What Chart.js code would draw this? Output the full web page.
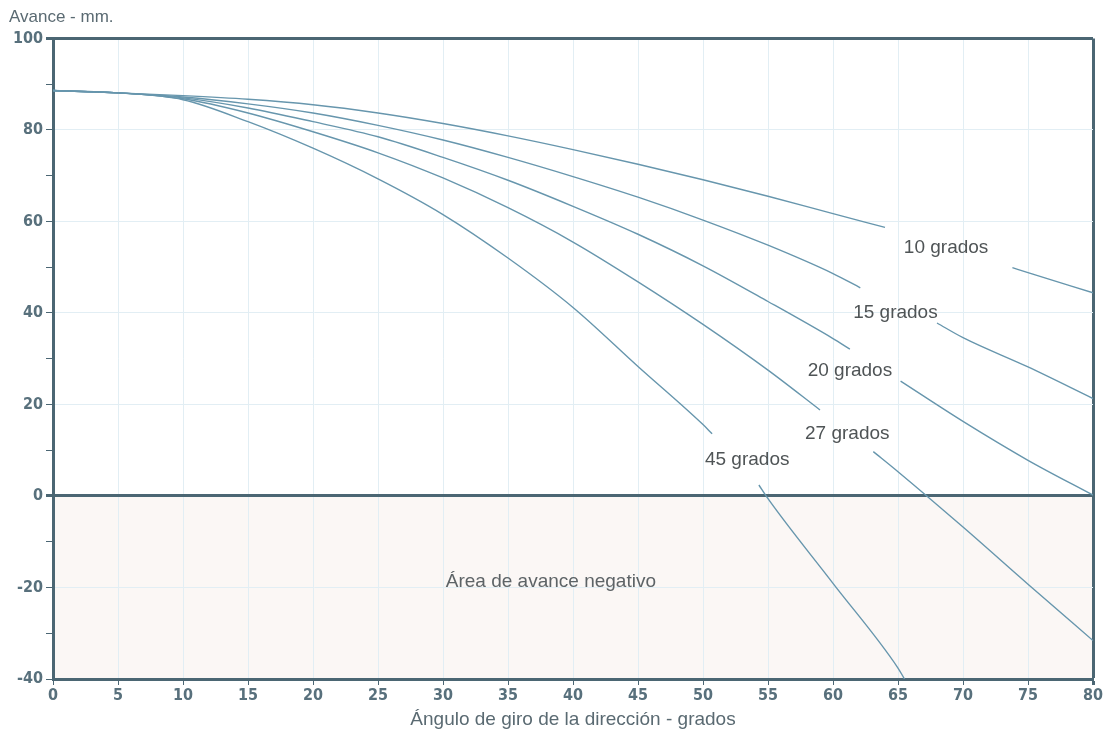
<!DOCTYPE html>
<html>
<head>
<meta charset="utf-8">
<script src="https://cdn.jsdelivr.net/npm/chart.js@4.4.1/dist/chart.umd.min.js"></script>
<style>
  html, body { margin: 0; padding: 0; background: #fff; }
  #wrap { width: 1109px; height: 735px; }
</style>
</head>
<body>
<div id="wrap"><canvas id="avance_graph" width="1109" height="735"></canvas></div>
<script>
// curves: steering angle (deg) vs advance (mm)
// null = break in the line where the label sits
var angles10 = [0, 5, 10, 15, 20, 25, 30, 35, 40, 45, 50, 55, 60, 64, 69, 73.8, 75, 80];
var avance10 = [88.6, 88.1, 87.5, 86.7, 85.5, 83.7, 81.4, 78.7, 75.7, 72.5, 69.1, 65.5, 61.7, 58.7, null, 49.9, 48.8, 44.4];

var angles15 = [0, 5, 10, 15, 20, 25, 30, 35, 40, 45, 50, 55, 60, 62.1, 65, 68, 70, 75, 80];
var avance15 = [88.6, 88.1, 87.2, 85.7, 83.7, 81, 77.8, 74, 69.8, 65.3, 60.3, 54.8, 48.6, 45.5, null, 37.8, 34.6, 28.2, 21.3];

var angles20 = [0, 5, 10, 15, 20, 25, 30, 35, 40, 45, 50, 55, 60, 61.3, 63, 65.2, 70, 75, 80];
var avance20 = [88.6, 88.1, 87, 84.8, 81.8, 78.5, 74, 69, 63.3, 57.2, 50.3, 42.5, 34.4, 32.1, null, 25.1, 16.3, 7.8, 0.2];

var angles27 = [0, 5, 10, 15, 20, 25, 30, 35, 40, 45, 50, 55, 59, 61, 63.1, 65, 70, 75, 80];
var avance27 = [88.6, 88.1, 86.8, 83.7, 79.6, 75, 69.5, 63, 55.5, 46.8, 37.5, 27.5, 18.8, null, 9.7, 5.3, -6.8, -19.3, -31.6];

var angles45 = [0, 5, 10, 15, 20, 25, 30, 35, 40, 45, 50, 50.7, 52.5, 54.3, 55, 60, 65, 65.5];
var avance45 = [88.6, 88.1, 86.6, 81.8, 76, 69.3, 61.5, 52, 41.2, 28.3, 15.6, 13.6, null, 2.4, -0.6, -19.1, -37.6, -40];

var curveNames = ["10 grados", "15 grados", "20 grados", "27 grados", "45 grados"];
// where each curve label is written (angle, advance)
var labelAt = [[68.7, 54.3], [64.8, 40], [61.3, 27.3], [61.1, 13.6], [53.4, 7.9]];

var xTicks = [0, 80, 5];      // min, max, step
var yTicks = [-40, 100, 20];

var negLabel = "Área de avance negativo";
var negLabelAt = [38.3, -18.7];

function pts(xs, ys) {
    return xs.map(function (x, i) { return { x: x, y: ys[i] }; });
}

var lineColor = "#6796ad";
var frameColor = "#4b6673";
var gridColor = "#e2eef4";
var textFamily = "'Liberation Sans', Arial, sans-serif";
var tickFont = { family: "'Liberation Sans Narrow', 'DejaVu Sans Condensed', 'Liberation Sans', sans-serif", size: 16, weight: 'bold' };

var series = [
    pts(angles10, avance10),
    pts(angles15, avance15),
    pts(angles20, avance20),
    pts(angles27, avance27),
    pts(angles45, avance45)
];

var backgroundPlugin = {
    id: 'negArea',
    beforeDraw: function (chart) {
        var c = chart.ctx, a = chart.chartArea;
        c.save();
        c.fillStyle = "#ffffff";
        c.fillRect(0, 0, chart.width, chart.height);
        var y0 = chart.scales.y.getPixelForValue(0);
        c.fillStyle = "#fbf7f5";
        c.fillRect(a.left, y0, a.right - a.left, a.bottom - y0);
        c.restore();
    }
};

var labelPlugin = {
    id: 'curveLabels',
    afterDatasetsDraw: function (chart) {
        var c = chart.ctx, sx = chart.scales.x, sy = chart.scales.y;
        c.save();
        c.font = "19px " + textFamily;
        c.fillStyle = "#4f5456";
        c.textAlign = "center";
        c.textBaseline = "middle";
        curveNames.forEach(function (name, i) {
            c.fillText(name, sx.getPixelForValue(labelAt[i][0]), sy.getPixelForValue(labelAt[i][1]));
        });
        c.fillStyle = "#5d6366";
        c.fillText(negLabel, sx.getPixelForValue(negLabelAt[0]), sy.getPixelForValue(negLabelAt[1]));
        c.restore();
    }
};

var config = {
    type: 'line',
    data: {
        datasets: series.map(function (s, i) {
            return {
                label: curveNames[i],
                data: s,
                borderColor: lineColor,
                borderWidth: 1.4,
                pointRadius: 0,
                cubicInterpolationMode: 'monotone',
                spanGaps: false,
                fill: false
            };
        })
    },
    options: {
        responsive: false,
        animation: false,
        layout: { padding: { top: 2, right: 16, left: 9, bottom: 4 } },
        plugins: {
            legend: { display: false },
            tooltip: { enabled: false },
            title: {
                display: true,
                text: 'Avance - mm.',
                align: 'start',
                color: '#5a6a72',
                font: { family: textFamily, size: 17, weight: 'normal' },
                padding: { top: 5, bottom: 11 }
            }
        },
        scales: {
            x: {
                type: 'linear',
                min: xTicks[0],
                max: xTicks[1],
                ticks: { stepSize: xTicks[2], color: '#58707c', font: tickFont, padding: 1 },
                grid: {
                    color: function (ctx) { return ctx.tick && ctx.tick.value === xTicks[1] ? frameColor : gridColor; },
                    lineWidth: function (ctx) { return ctx.tick && ctx.tick.value === xTicks[1] ? 3 : 1; },
                    tickColor: frameColor,
                    tickLength: 6
                },
                border: { color: frameColor, width: 3 },
                title: {
                    display: true,
                    text: 'Ángulo de giro de la dirección - grados',
                    color: '#5a6a72',
                    font: { family: textFamily, size: 19 },
                    padding: { top: 2, bottom: 0 }
                }
            },
            y: {
                type: 'linear',
                min: yTicks[0],
                max: yTicks[1],
                ticks: {
                    stepSize: 10,
                    color: '#58707c',
                    font: tickFont,
                    padding: 3,
                    callback: function (v) { return v % yTicks[2] === 0 ? v : ''; }
                },
                grid: {
                    color: function (ctx) {
                        if (!ctx.tick) return gridColor;
                        var v = ctx.tick.value;
                        if (v === 0 || v === yTicks[1]) return frameColor;
                        return v % yTicks[2] === 0 ? gridColor : 'rgba(0,0,0,0)';
                    },
                    lineWidth: function (ctx) {
                        if (!ctx.tick) return 1;
                        var v = ctx.tick.value;
                        return (v === 0 || v === yTicks[1]) ? 3 : 1;
                    },
                    tickColor: frameColor,
                    tickLength: 7
                },
                border: { color: frameColor, width: 3 },
                afterFit: function (scale) { scale.width = 44; }
            }
        }
    },
    plugins: [backgroundPlugin, labelPlugin]
};

var ctx = document.getElementById("avance_graph").getContext("2d");
new Chart(ctx, config);
</script>
</body>
</html>
